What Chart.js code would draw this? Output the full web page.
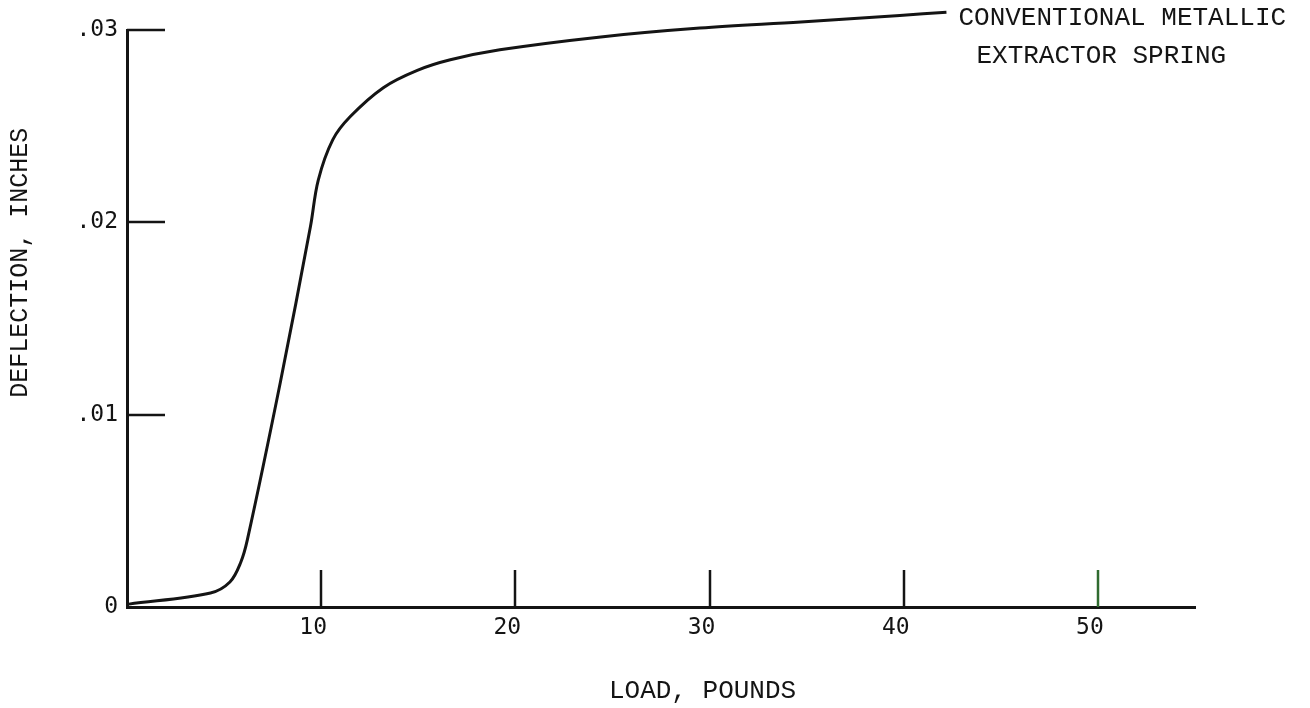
<!DOCTYPE html>
<html>
<head>
<meta charset="utf-8">
<script src="https://cdn.jsdelivr.net/npm/chart.js@4/dist/chart.umd.min.js"></script>
<style>
  html, body { margin: 0; padding: 0; background: #ffffff; }
  #wrap { width: 1310px; height: 708px; position: relative; }
</style>
</head>
<body>
<div id="wrap"><canvas id="c" width="1310" height="708"></canvas></div>
<script>
// Load (pounds) against deflection (inches) for the extractor spring
const loadPounds = [0.1, 4.3, 5.3, 5.85, 6.2, 7.9, 9.45, 9.85, 10.6, 11.5, 13.2, 14.95, 16.65, 19.2, 24.4, 29.5, 34.7, 39.8, 42.2];
const deflectionInches = [0.00015, 0.00073, 0.0013, 0.0023, 0.0035, 0.0117, 0.0198, 0.0222, 0.0243, 0.0255, 0.0270, 0.0279, 0.02845, 0.02897, 0.02964, 0.0301, 0.03042, 0.03076, 0.03092];

// Axis ticks and their printed labels
const xTickValues = [10, 20, 30, 40, 50];
const xTickLabels = ['10', '20', '30', '40', '50'];
const yTickValues = [0.01, 0.02, 0.03];
const yTickLabels = ['0', '.01', '.02', '.03'];

const seriesLabel = ['CONVENTIONAL METALLIC', 'EXTRACTOR SPRING'];
const xTitle = 'LOAD, POUNDS';
const yTitle = 'DEFLECTION, INCHES';

const INK = '#141414';
const typeFont = '"Liberation Mono", "DejaVu Sans Mono", monospace';
const digitFont = '"DejaVu Sans Mono", monospace';

const points = loadPounds.map((x, i) => ({ x: x, y: deflectionInches[i] }));

// Inward tick marks, axis titles and the curve label
const decorations = {
  id: 'decorations',
  afterDatasetsDraw(chart) {
    const ctx = chart.ctx;
    const xs = chart.scales.x, ys = chart.scales.y;
    const area = chart.chartArea;
    ctx.save();
    ctx.lineCap = 'butt';
    ctx.lineWidth = 2.5;
    xTickValues.forEach(v => {
      const px = Math.round(xs.getPixelForValue(v));
      ctx.strokeStyle = (v === 50) ? '#2f6b2f' : INK;
      ctx.beginPath();
      ctx.moveTo(px, area.bottom);
      ctx.lineTo(px, area.bottom - 37);
      ctx.stroke();
    });
    ctx.strokeStyle = INK;
    yTickValues.forEach(v => {
      const py = Math.round(ys.getPixelForValue(v));
      ctx.beginPath();
      ctx.moveTo(area.left, py);
      ctx.lineTo(area.left + 38, py);
      ctx.stroke();
    });

    ctx.fillStyle = INK;
    ctx.font = '26px ' + typeFont;
    ctx.textAlign = 'center';
    ctx.textBaseline = 'middle';
    ctx.fillText(xTitle, xs.getPixelForValue(30) - 7, 691);

    ctx.save();
    ctx.translate(20, ys.getPixelForValue(0.0179));
    ctx.rotate(-Math.PI / 2);
    ctx.font = '25px ' + typeFont;
    ctx.fillText(yTitle, 0, 0);
    ctx.restore();

    const last = points[points.length - 1];
    const lx = xs.getPixelForValue(last.x) + 12;
    const ly = ys.getPixelForValue(last.y);
    ctx.textAlign = 'left';
    ctx.font = '26px ' + typeFont;
    ctx.fillText(seriesLabel[0], lx, ly + 6);
    ctx.fillText(seriesLabel[1], lx + 18, ly + 44);
    ctx.restore();
  }
};

new Chart(document.getElementById('c'), {
  type: 'scatter',
  data: {
    datasets: [{
      data: points,
      showLine: true,
      borderColor: INK,
      borderWidth: 3,
      pointRadius: 0,
      fill: false,
      clip: false,
      tension: 0.35
    }]
  },
  options: {
    responsive: false,
    animation: false,
    devicePixelRatio: 1,
    layout: { padding: { top: 30, right: 115, bottom: 0, left: 0 } },
    plugins: { legend: { display: false }, tooltip: { enabled: false } },
    elements: { line: { capBezierPoints: false } },
    scales: {
      x: {
        type: 'linear',
        min: 0,
        max: 55,
        afterFit(scale) { scale.height = 101; },
        afterBuildTicks(scale) { scale.ticks = xTickValues.map(v => ({ value: v })); },
        grid: { display: false, drawTicks: false },
        border: { display: true, color: INK, width: 3 },
        ticks: {
          padding: 7,
          labelOffset: -8,
          color: INK,
          font: { family: digitFont, size: 23 },
          callback: (v) => xTickLabels[xTickValues.indexOf(v)] ?? ''
        }
      },
      y: {
        type: 'linear',
        min: 0,
        max: 0.03,
        afterFit(scale) { scale.width = 127; },
        afterBuildTicks(scale) { scale.ticks = [0].concat(yTickValues).map(v => ({ value: v })); },
        grid: { display: false, drawTicks: false },
        border: { display: true, color: INK, width: 3 },
        ticks: {
          padding: 9,
          color: INK,
          font: { family: digitFont, size: 23 },
          callback: (v, i) => yTickLabels[i]
        }
      }
    }
  },
  plugins: [decorations]
});
</script>
</body>
</html>
